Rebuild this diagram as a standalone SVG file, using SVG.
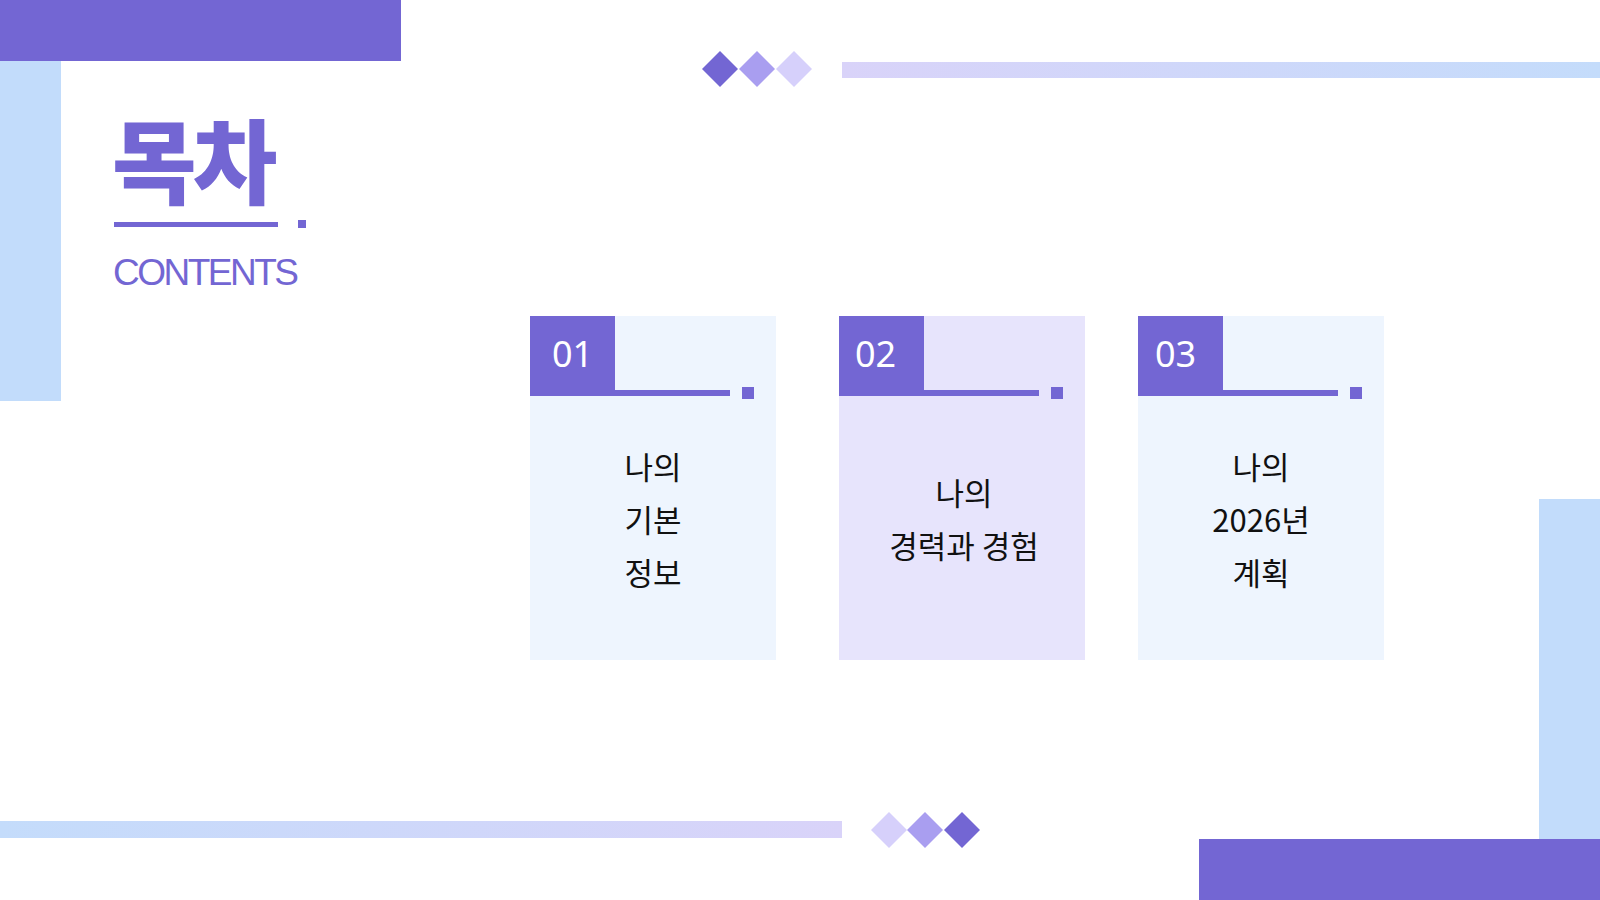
<svg xmlns="http://www.w3.org/2000/svg" width="1600" height="900" viewBox="0 0 1600 900">
<style>
.p{fill:#7366D3}.lb{fill:#c2dcfb}
.num{font-family:"Noto Sans","Noto Sans CJK KR",sans-serif;font-size:36px;fill:#fff}
.t{font-family:"Noto Sans CJK KR",sans-serif;font-size:31px;fill:#111;text-anchor:middle}
</style>
<defs>
<linearGradient id="g1" x1="0" x2="1"><stop offset="0" stop-color="#d9d3f9"/><stop offset="1" stop-color="#c4dcfb"/></linearGradient>
<linearGradient id="g2" x1="0" x2="1"><stop offset="0" stop-color="#c4dcfb"/><stop offset="1" stop-color="#d9d3f9"/></linearGradient>
</defs>
<rect width="1600" height="900" fill="#fff"/>
<g id="decor">
<rect class="p" x="0" y="0" width="401" height="61"/>
<rect class="lb" x="0" y="61" width="61" height="340"/>
<rect class="lb" x="1539" y="499" width="61" height="340"/>
<rect class="p" x="1199" y="839" width="401" height="61"/>
<rect x="842" y="62" width="758" height="16" fill="url(#g1)"/>
<rect x="0" y="821" width="842" height="17" fill="url(#g2)"/>
<polygon points="720,51 738,69 720,87 702,69" fill="#7366D3"/>
<polygon points="757,51 775,69 757,87 739,69" fill="#a99ef0"/>
<polygon points="794,51 812,69 794,87 776,69" fill="#d6d0fb"/>
<polygon points="889,812 907,830 889,848 871,830" fill="#d6d0fb"/>
<polygon points="925,812 943,830 925,848 907,830" fill="#a99ef0"/>
<polygon points="962,812 980,830 962,848 944,830" fill="#7366D3"/>
</g>
<g id="title">
<text x="112" y="197" font-family="Noto Sans CJK KR,sans-serif" font-weight="900" font-size="92" fill="#7366D3" letter-spacing="-4">목차</text>
<rect class="p" x="114" y="222" width="164" height="5"/>
<rect class="p" x="298" y="220" width="8" height="8"/>
<text x="113" y="285" font-family="Liberation Sans,sans-serif" font-size="37" fill="#7366D3" letter-spacing="-2.5">CONTENTS</text>
</g>
<g id="card1">
<rect x="530" y="316" width="246" height="344" fill="#eef5fe"/>
<rect class="p" x="530" y="316" width="85" height="80"/>
<rect class="p" x="615" y="390" width="115" height="6"/>
<rect class="p" x="742" y="387" width="12" height="12"/>
<text class="num" x="552" y="367">01</text>
<text class="t" x="653" y="479">나의</text><text class="t" x="653" y="532">기본</text><text class="t" x="653" y="585">정보</text>
</g>
<g id="card2">
<rect x="839" y="316" width="246" height="344" fill="#e7e4fc"/>
<rect class="p" x="839" y="316" width="85" height="80"/>
<rect class="p" x="924" y="390" width="115" height="6"/>
<rect class="p" x="1051" y="387" width="12" height="12"/>
<text class="num" x="855" y="367">02</text>
<text class="t" x="964" y="505">나의</text><text class="t" x="964" y="558">경력과 경험</text>
</g>
<g id="card3">
<rect x="1138" y="316" width="246" height="344" fill="#eef5fe"/>
<rect class="p" x="1138" y="316" width="85" height="80"/>
<rect class="p" x="1223" y="390" width="115" height="6"/>
<rect class="p" x="1350" y="387" width="12" height="12"/>
<text class="num" x="1155" y="367">03</text>
<text class="t" x="1261" y="479">나의</text><text class="t" x="1261" y="532">2026년</text><text class="t" x="1261" y="585">계획</text>
</g>
<g id="connectors"/>
</svg>
